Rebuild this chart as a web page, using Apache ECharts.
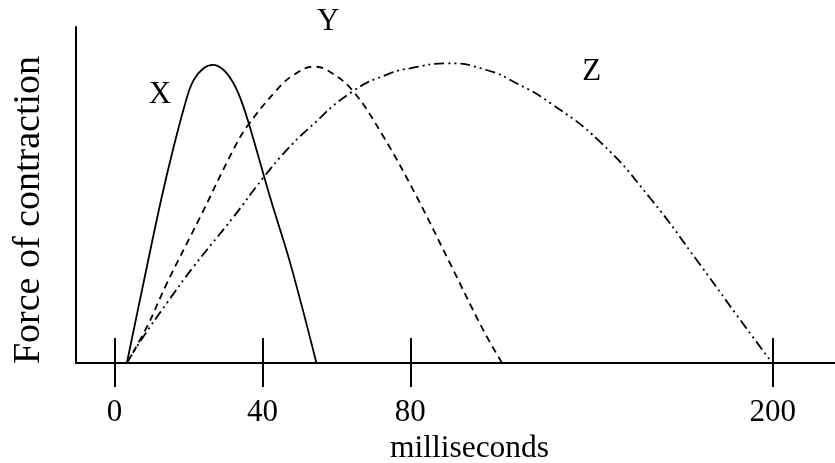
<!DOCTYPE html>
<html>
<head>
<meta charset="utf-8">
<style>
    html, body { margin: 0; padding: 0; background: #fff; }
    #chart { width: 835px; height: 463px; }
</style>
<script src="https://cdn.jsdelivr.net/npm/echarts@6/dist/echarts.min.js"></script>
</head>
<body>
<div id="chart"></div>
<script>
// x in drawing units of the sketch (0..178 spans the 0..200 ms ticks), y = relative force
const curveX = [
    [3.35, 0], [7.9, 24.1], [12.6, 48.5], [15.8, 63.4], [19.4, 78.3], [21.4, 84.2],
    [24.1, 87.7], [26.6, 88.7], [29.5, 87.2], [32.2, 83.2], [34.2, 78.3], [36.7, 69.9],
    [42.3, 48.5], [47.5, 29.8], [54.6, 0]
];
const curveY = [
    [3.35, 0], [8.8, 10.8], [14.2, 23.8], [23.2, 43.5], [32.1, 63.4], [35.8, 70.3],
    [43.9, 81.3], [48.4, 85.7], [53.8, 88.2], [57.4, 87.2], [64.2, 81.3], [72.7, 67.4],
    [81.7, 49.5], [90.7, 29.7], [99.7, 9.8], [104.8, 0]
];
const curveZ = [
    [3.35, 0], [7.8, 7.8], [14.2, 17.9], [21.4, 28.7], [32.2, 43.5], [40.2, 55.1],
    [46.6, 63.4], [52.0, 69.3], [64.2, 80.7], [74.5, 86.2], [79.9, 87.7], [89.9, 89.2],
    [100.6, 87.2], [108.8, 83.2], [117.8, 77.4], [131.3, 65.8], [144.8, 49.1],
    [158.3, 29.3], [168.2, 14.3], [177.8, 0]
];
const tickPositions = [0, 40, 80, 178];
const tickLabels = ["0", "40", "80", "200"];
const curveNames = [[12.3, 79.8, "X"], [57.8, 101.6, "Y"], [129, 86.7, "Z"]];

const font = "Liberation Serif";
const chart = echarts.init(document.getElementById("chart"), null, { renderer: "canvas" });

const xBase = {
    type: "value",
    min: -10.4,
    max: 194.8,
    position: "bottom",
    splitLine: { show: false },
};

chart.setOption({
    animation: false,
    grid: { left: 76, right: 0, top: 27, bottom: 100, outerBoundsMode: "none", containLabel: false },
    xAxis: [
        Object.assign({}, xBase, {
            name: "milliseconds",
            nameLocation: "middle",
            nameGap: 70,
            nameTextStyle: { fontFamily: font, fontSize: 31.5, color: "#000", padding: [0, 0, 0, 28] },
            axisLine: { onZero: false, lineStyle: { color: "#000", width: 2 } },
            axisTick: { show: true, inside: true, length: 25, customValues: tickPositions, lineStyle: { color: "#000", width: 2 } },
            axisLabel: {
                show: true, margin: 34, fontFamily: font, fontSize: 31, color: "#000",
                customValues: tickPositions,
                formatter: (v) => tickLabels[tickPositions.indexOf(v)] ?? "",
            },
        }),
        Object.assign({}, xBase, {
            axisLine: { show: false },
            axisTick: { show: true, inside: false, length: 24, customValues: tickPositions, lineStyle: { color: "#000", width: 2 } },
            axisLabel: { show: false },
        }),
    ],
    yAxis: {
        type: "value",
        min: 0,
        max: 100,
        name: "Force of contraction",
        nameLocation: "middle",
        nameRotate: 90,
        nameGap: 28,
        nameTextStyle: { fontFamily: font, fontSize: 38, color: "#000", padding: [0, 30, 0, 0] },
        axisLine: { show: true, onZero: false, lineStyle: { color: "#000", width: 2 } },
        axisTick: { show: false },
        axisLabel: { show: false },
        splitLine: { show: false },
    },
    series: [
        {
            name: "X", type: "line", data: curveX, smooth: 0.4, showSymbol: false,
            lineStyle: { color: "#000", width: 1.8, type: "solid" },
        },
        {
            name: "Y", type: "line", data: curveY, smooth: 0.4, showSymbol: false,
            lineStyle: { color: "#000", width: 1.8, type: [7, 5] },
        },
        {
            name: "Z", type: "line", data: curveZ, smooth: 0.5, showSymbol: false,
            lineStyle: { color: "#000", width: 1.8, type: [10, 4, 2, 4, 2, 4] },
        },
        {
            name: "labels", type: "scatter", data: curveNames, symbolSize: 0, clip: false,
            itemStyle: { opacity: 1 },
            label: {
                show: true, position: "inside", fontFamily: font, fontSize: 31, color: "#000",
                textBorderWidth: 0, opacity: 1,
                formatter: (p) => p.value[2],
            },
        },
    ],
});
</script>
</body>
</html>
